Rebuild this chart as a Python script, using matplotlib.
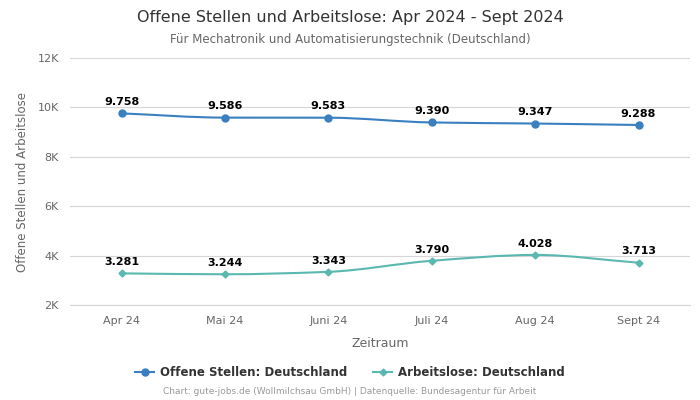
import numpy as np
import matplotlib.pyplot as plt
from matplotlib.path import Path
from matplotlib.patches import PathPatch

months = ["Apr 24", "Mai 24", "Juni 24", "Juli 24", "Aug 24", "Sept 24"]
offene = [9758, 9586, 9583, 9390, 9347, 9288]
arbeitslose = [3281, 3244, 3343, 3790, 4028, 3713]

blue = "#3a7fbf"
teal = "#5ab8b0"


def smooth_path(xs, ys):
    # monotone cubic (Fritsch-Carlson) as bezier segments
    xs = np.asarray(xs, float)
    ys = np.asarray(ys, float)
    d = np.diff(ys) / np.diff(xs)
    m = np.zeros(len(ys))
    m[0], m[-1] = d[0], d[-1]
    for i in range(1, len(ys) - 1):
        if d[i - 1] * d[i] <= 0:
            m[i] = 0
        else:
            m[i] = 2 / (1 / d[i - 1] + 1 / d[i])
    verts = [(xs[0], ys[0])]
    codes = [Path.MOVETO]
    for i in range(len(xs) - 1):
        h = xs[i + 1] - xs[i]
        verts += [(xs[i] + h / 3, ys[i] + m[i] * h / 3),
                  (xs[i + 1] - h / 3, ys[i + 1] - m[i + 1] * h / 3),
                  (xs[i + 1], ys[i + 1])]
        codes += [Path.CURVE4] * 3
    return Path(verts, codes)


def fmt(v):
    return f"{v:,}".replace(",", ".")


fig = plt.figure(figsize=(7, 4), dpi=100)
ax = fig.add_axes([0.1, 0.2375, 0.886, 0.6175])

x = np.arange(len(months))
for vals, col, mk, ms, lab in [(offene, blue, "o", 5, "Offene Stellen: Deutschland"),
                               (arbeitslose, teal, "D", 3.5, "Arbeitslose: Deutschland")]:
    ax.add_patch(PathPatch(smooth_path(x, vals), facecolor="none", edgecolor=col, lw=1.5, zorder=3))
    ax.plot(x, vals, linestyle="none", marker=mk, markersize=ms, color=col, zorder=4)
    ax.plot([], [], color=col, marker=mk, markersize=ms, lw=1.5, label=lab)
    for xi, v in zip(x, vals):
        ax.annotate(fmt(v), (xi, v), xytext=(0, 4.5), textcoords="offset points",
                    ha="center", va="bottom", fontsize=8, fontweight="bold", color="black")

ax.set_xlim(-0.5, 5.5)
ax.set_ylim(2000, 12000)
ax.set_yticks(range(2000, 12001, 2000))
ax.set_yticklabels([f"{t // 1000}K" for t in range(2000, 12001, 2000)])
ax.set_xticks(x)
ax.set_xticklabels(months)
ax.tick_params(axis="both", length=0, labelsize=8, colors="#666666", pad=8)
ax.grid(axis="y", color="#d6d6d6", lw=0.8)
ax.axhline(2000, color="#d6d6d6", lw=0.8, clip_on=False, zorder=0)
ax.set_axisbelow(True)
for s in ax.spines.values():
    s.set_visible(False)

ax.set_xlabel("Zeitraum", fontsize=9, color="#666666", labelpad=8)
ax.set_ylabel("Offene Stellen und Arbeitslose", fontsize=8.5, color="#666666", labelpad=6)

fig.text(0.5, 0.957, "Offene Stellen und Arbeitslose: Apr 2024 - Sept 2024",
         ha="center", va="center", fontsize=11.5, color="#333333")
fig.text(0.5, 0.902, "Für Mechatronik und Automatisierungstechnik (Deutschland)",
         ha="center", va="center", fontsize=8.5, color="#666666")

fig.legend(loc="center", bbox_to_anchor=(0.5, 0.0675), ncol=2, frameon=False,
           prop={"weight": "bold", "size": 8.5}, labelcolor="#333333",
           handlelength=1.6, columnspacing=2.2, handletextpad=0.5)
fig.text(0.5, 0.02, "Chart: gute-jobs.de (Wollmilchsau GmbH) | Datenquelle: Bundesagentur für Arbeit",
         ha="center", va="center", fontsize=6.5, color="#999999")

fig.savefig("out.png", dpi=100)
